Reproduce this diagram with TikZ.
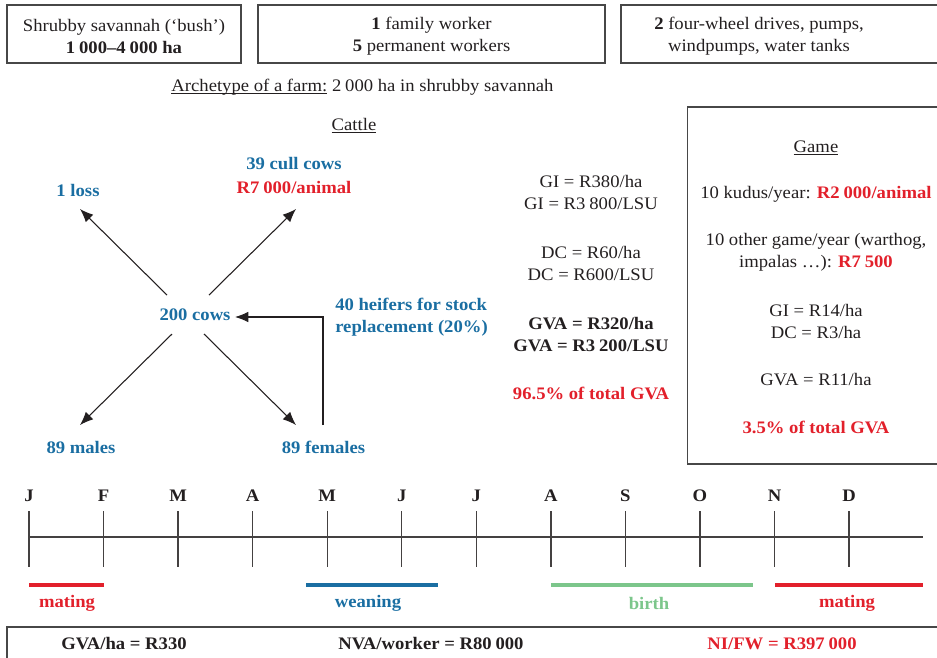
\documentclass[tikz,border=0pt]{standalone}
\usepackage{fontspec}
\setmainfont{Liberation Serif}[FakeStretch=1.06]
\usetikzlibrary{arrows.meta}
\definecolor{ink}{HTML}{231F20}
\definecolor{cblue}{HTML}{1A6EA2}
\definecolor{cred}{HTML}{E2202B}
\definecolor{cgreen}{HTML}{7CC68B}
\definecolor{frame}{HTML}{474747}
\newcommand{\ul}[1]{\underline{\smash{#1}}}
\newcommand{\ts}{\hspace{0.22em}}
\begin{document}
\begin{tikzpicture}[x=0.75pt,y=-0.75pt,
  t/.style={font=\fontsize{13.2}{16.5}\selectfont, text=ink, align=center, inner sep=0pt},
  tb/.style={t, font=\fontsize{13.2}{16.5}\selectfont\bfseries},
  bl/.style={tb, text=cblue},
  rd/.style={tb, text=cred},
  gr/.style={tb, text=cgreen},
  frm/.style={draw=frame, line width=1.1pt, inner sep=0pt},
  arr/.style={-{Latex[length=10pt,width=8pt]}, line width=0.8pt, draw=ink},
  tl/.style={draw=ink!85, line width=1pt},
  bar/.style={line width=2.3pt}]
\useasboundingbox (0,0) rectangle (937,657);
\clip (0,0) rectangle (937,657);

% top boxes
\node[frm, minimum width=175.5pt, minimum height=43.5pt] (box1) at (124,34) {};
\node[t] (box1t) at (124,36) {Shrubby savannah (‘bush’)\\ \textbf{1\ts000–4\ts000 ha}};
\node[frm, minimum width=260.25pt, minimum height=43.5pt] (box2) at (431.5,34) {};
\node[t] (box2t) at (431.5,36) {\textbf{1} family worker\\ \textbf{5} permanent workers};
\node[frm, minimum width=241.5pt, minimum height=43.5pt] (box3) at (782,34) {};
\node[t] (box3t) at (759,36) {\textbf{2} four-wheel drives, pumps,\\ windpumps, water tanks};

\node[t] (arch) at (362.5,87) {\ul{Archetype of a farm:} 2\ts000 ha in shrubby savannah};

% cattle
\node[t] (cattle) at (354,132) {\ul{Cattle}};
\node[bl] (cull) at (294,163) {39 cull cows};
\node[rd] (cullp) at (294,187) {R7\ts000/animal};
\node[bl] (loss) at (78,190) {1 loss};
\node[bl] (cows) at (195,315) {200 cows};
\node[bl, align=left, anchor=west] (heif) at (335,317.5) {40 heifers for stock\\ replacement (20\%)};
\node[bl] (males) at (81,447) {89 males};
\node[bl] (fem) at (323.5,447) {89 females};

\coordinate (ul0) at (167,295); \coordinate (ul1) at (80,209);
\coordinate (ur0) at (209,295); \coordinate (ur1) at (296,209);
\coordinate (ll0) at (172,334); \coordinate (ll1) at (80,425);
\coordinate (lr0) at (204,334); \coordinate (lr1) at (296,425);
\coordinate (hf0) at (323,425); \coordinate (hf1) at (235,317);
\draw[arr] (ul0) -- (ul1);
\draw[arr] (ur0) -- (ur1);
\draw[arr] (ll0) -- (ll1);
\draw[arr] (lr0) -- (lr1);
\draw[arr] (hf0) |- (hf1);

% middle column
\node[t] (gi) at (591,192.5) {GI = R380/ha\\ GI = R3\ts800/LSU};
\node[t] (dc) at (591,263.5) {DC = R60/ha\\ DC = R600/LSU};
\node[tb] (gva) at (591,334.5) {GVA = R320/ha\\ GVA = R3\ts200/LSU};
\node[rd] (pct) at (591,393) {96.5\% of total GVA};

% game box
\node[frm, minimum width=192.75pt, minimum height=267.75pt] (game) at (816,285.5) {};
\node[t] (gamet) at (816,154) {\ul{Game}};
\node[t] (kudu) at (816,194) {10 kudus/year: \textbf{\color{cred}R2\ts000/animal}};
\node[t] (other) at (816,252) {10 other game/year (warthog,\\ impalas …): \textbf{\color{cred}R7\ts500}};
\node[t] (ggi) at (816,321) {GI = R14/ha\\ DC = R3/ha};
\node[t] (ggva) at (816,380) {GVA = R11/ha};
\node[rd] (gpct) at (816,427) {3.5\% of total GVA};

% timeline
\coordinate (tl0) at (29,537); \coordinate (tl1) at (923,537);
\draw[tl] (tl0) -- (tl1);
\foreach \m [count=\i from 0] in {J,F,M,A,M,J,J,A,S,O,N,D} {
  \node[tb] (m\i) at ({29+74.55*\i},496) {\m};
  \coordinate (tk\i a) at ({29+74.55*\i},511);
  \coordinate (tk\i b) at ({29+74.55*\i},567);
  \draw[tl] (tk\i a) -- (tk\i b);
}
\coordinate (b1a) at (29,585); \coordinate (b1b) at (104,585);
\coordinate (b2a) at (306,585); \coordinate (b2b) at (438,585);
\coordinate (b3a) at (551,585); \coordinate (b3b) at (753,585);
\coordinate (b4a) at (775,585); \coordinate (b4b) at (923,585);
\draw[bar, cred] (b1a) -- (b1b);
\draw[bar, cblue] (b2a) -- (b2b);
\draw[bar, cgreen] (b3a) -- (b3b);
\draw[bar, cred] (b4a) -- (b4b);
\node[rd] (lmat1) at (67,603) {mating};
\node[bl] (lwean) at (368,603) {weaning};
\node[gr] (lbirth) at (649,603) {birth};
\node[rd] (lmat2) at (847,603) {mating};

% bottom box
\node[frm, minimum width=711pt, minimum height=45pt] (bot) at (481,657) {};
\node[tb] (gvaha) at (124,644) {GVA/ha = R330};
\node[tb] (nva) at (431,644) {NVA/worker = R80\ts000};
\node[rd] (nifw) at (782,644) {NI/FW = R397\ts000};
\end{tikzpicture}
\end{document}
